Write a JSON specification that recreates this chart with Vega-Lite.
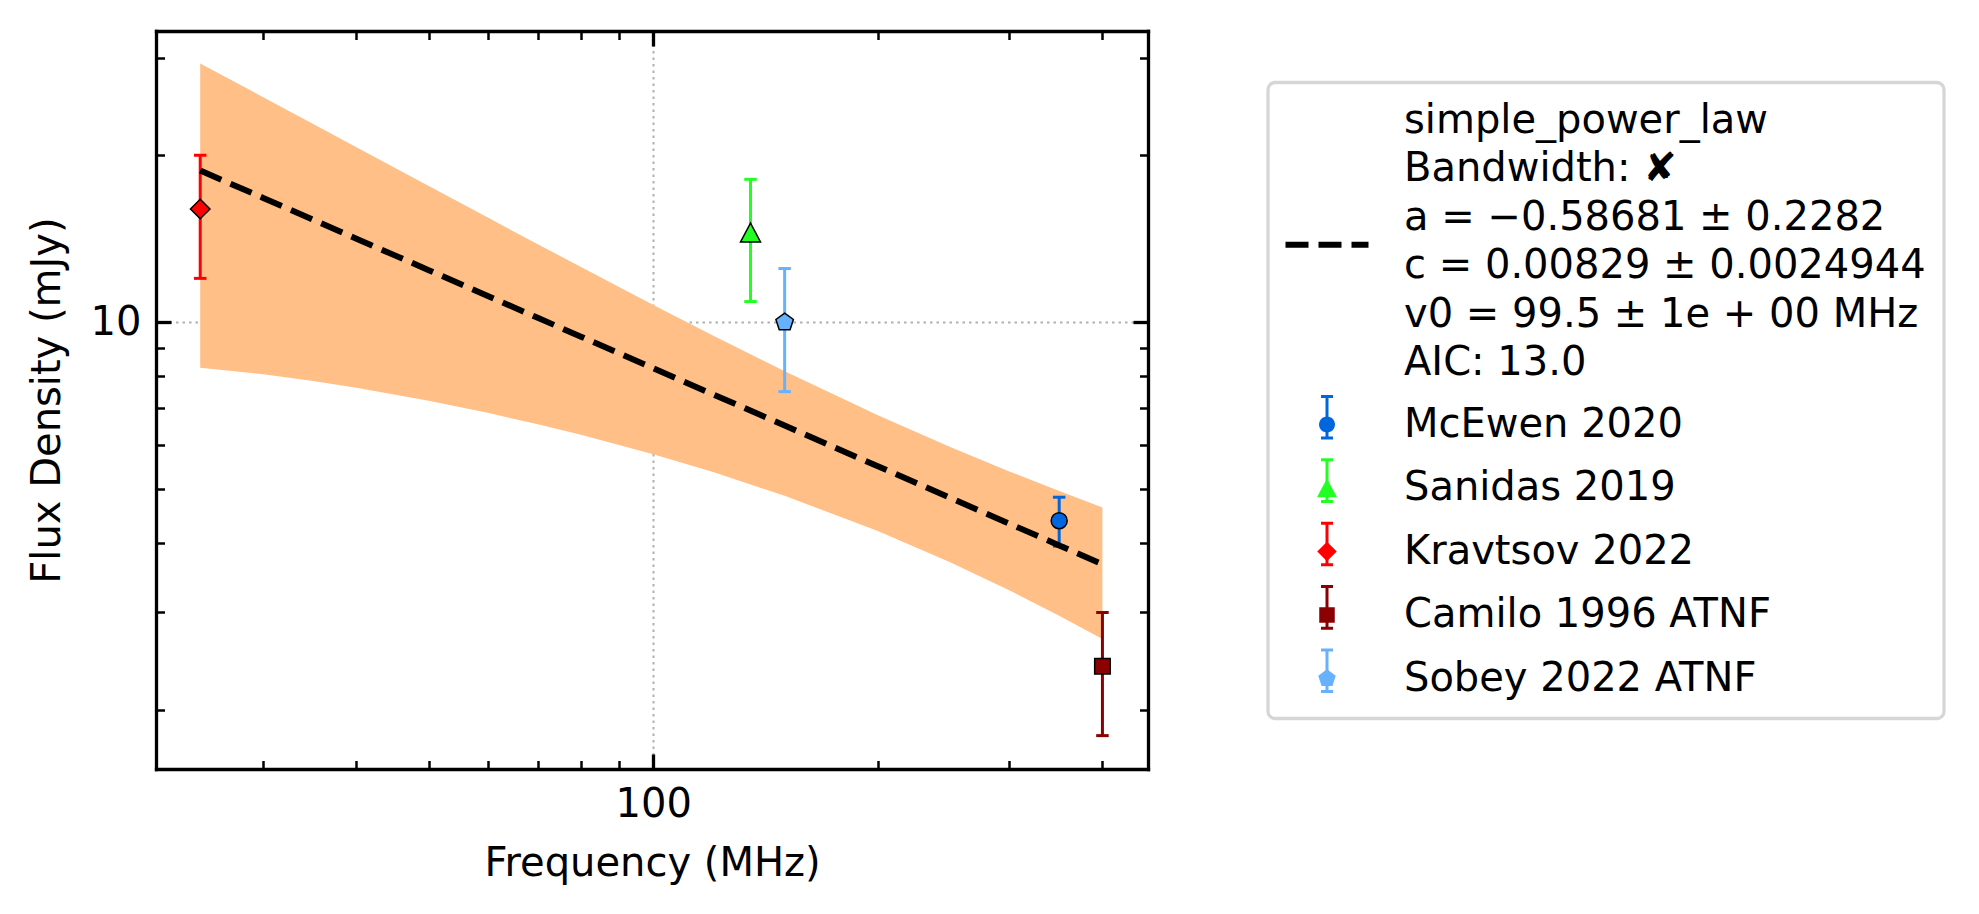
{
  "$schema": "https://vega.github.io/schema/vega-lite/v6.json",
  "width": 992,
  "height": 738,
  "autosize": {"type": "none"},
  "padding": {"left": 156, "top": 31, "right": 831, "bottom": 145},
  "background": "white",
  "config": {
    "font": "DejaVu Sans",
    "view": {"stroke": null},
    "axis": {
      "domainColor": "black", "domainWidth": 3.3, "domainCap": "square",
      "tickColor": "black",
      "labelFont": "DejaVu Sans", "labelFontSize": 40, "labelColor": "black",
      "titleFont": "DejaVu Sans", "titleFontSize": 40, "titleFontWeight": "normal", "titleColor": "black",
      "gridColor": "#b0b0b0", "gridWidth": 2, "gridDash": [2.5, 4]
    },
    "legend": {"labelFont": "DejaVu Sans", "labelFontSize": 40, "labelColor": "black", "strokeWidth": 3.3}
  },
  "datasets": {
    "fit": [
      {"model": "simple_power_law", "f": 24.7, "S": 18.778, "lo": 8.286, "hi": 29.27},
      {"model": "simple_power_law", "f": 30, "S": 16.754, "lo": 8.062, "hi": 25.446},
      {"model": "simple_power_law", "f": 35, "S": 15.305, "lo": 7.842, "hi": 22.768},
      {"model": "simple_power_law", "f": 40, "S": 14.151, "lo": 7.626, "hi": 20.676},
      {"model": "simple_power_law", "f": 50, "S": 12.414, "lo": 7.225, "hi": 17.603},
      {"model": "simple_power_law", "f": 60, "S": 11.155, "lo": 6.869, "hi": 15.441},
      {"model": "simple_power_law", "f": 70, "S": 10.19, "lo": 6.553, "hi": 13.827},
      {"model": "simple_power_law", "f": 80, "S": 9.422, "lo": 6.27, "hi": 12.574},
      {"model": "simple_power_law", "f": 100, "S": 8.266, "lo": 5.785, "hi": 10.747},
      {"model": "simple_power_law", "f": 120, "S": 7.427, "lo": 5.377, "hi": 9.477},
      {"model": "simple_power_law", "f": 150, "S": 6.516, "lo": 4.87, "hi": 8.162},
      {"model": "simple_power_law", "f": 200, "S": 5.503, "lo": 4.206, "hi": 6.8},
      {"model": "simple_power_law", "f": 250, "S": 4.828, "lo": 3.695, "hi": 5.961},
      {"model": "simple_power_law", "f": 300, "S": 4.338, "lo": 3.289, "hi": 5.387},
      {"model": "simple_power_law", "f": 350, "S": 3.963, "lo": 2.96, "hi": 4.966},
      {"model": "simple_power_law", "f": 400, "S": 3.664, "lo": 2.688, "hi": 4.64}
    ],
    "obs": [
      {"src": "McEwen 2020", "f": 350, "S": 4.39, "lo": 3.95, "hi": 4.84},
      {"src": "Sanidas 2019", "f": 135, "S": 14.5, "lo": 10.9, "hi": 18.1},
      {"src": "Kravtsov 2022", "f": 24.7, "S": 16.0, "lo": 12.0, "hi": 20.0},
      {"src": "Camilo 1996 ATNF", "f": 400, "S": 2.4, "lo": 1.8, "hi": 3.0},
      {"src": "Sobey 2022 ATNF", "f": 150, "S": 10.0, "lo": 7.5, "hi": 12.5}
    ]
  },
  "resolve": {"axis": {"x": "independent", "y": "independent"}},
  "layer": [
    {
      "data": {"name": "fit"},
      "mark": {"type": "area", "color": "#ffbf86", "opacity": 1},
      "encoding": {
        "x": {
          "field": "f", "type": "quantitative",
          "scale": {"type": "log", "domain": [21.549, 460.4], "nice": false},
          "axis": {
            "orient": "bottom",
            "values": [30, 40, 50, 60, 70, 80, 90, 100, 200, 300, 400],
            "labelExpr": "datum.value == 100 ? '100' : ''",
            "tickSize": {"condition": {"test": "datum.value == 100", "value": -15}, "value": -8.5},
            "tickWidth": {"condition": {"test": "datum.value == 100", "value": 3.3}, "value": 2.5},
            "grid": true,
            "gridOpacity": {"condition": {"test": "datum.value == 100", "value": 1}, "value": 0},
            "labelPadding": 30, "labelFlush": false, "labelOverlap": false,
            "title": "Frequency (MHz)", "titleX": 496, "titleY": 106, "titleBaseline": "alphabetic"
          }
        },
        "y": {
          "field": "lo", "type": "quantitative",
          "scale": {"type": "log", "domain": [1.5672, 33.49], "nice": false, "zero": false},
          "axis": {
            "orient": "left",
            "values": [2, 3, 4, 5, 6, 7, 8, 9, 10, 20, 30],
            "labelExpr": "datum.value == 10 ? '10' : ''",
            "tickSize": {"condition": {"test": "datum.value == 10", "value": -15}, "value": -8.5},
            "tickWidth": {"condition": {"test": "datum.value == 10", "value": 3.3}, "value": 2.5},
            "grid": true,
            "gridOpacity": {"condition": {"test": "datum.value == 10", "value": 1}, "value": 0},
            "labelPadding": 30, "labelFlush": false, "labelOverlap": false,
            "title": "Flux Density (mJy)", "titleX": -97, "titleY": 369, "titleBaseline": "alphabetic"
          }
        },
        "y2": {"field": "hi"}
      }
    },
    {
      "data": {"name": "obs"},
      "mark": {"type": "rule", "strokeWidth": 3},
      "encoding": {
        "x": {"field": "f", "type": "quantitative", "axis": null},
        "y": {"field": "lo", "type": "quantitative", "axis": null},
        "y2": {"field": "hi"},
        "color": {
          "field": "src", "type": "nominal",
          "scale": {
            "domain": ["McEwen 2020", "Sanidas 2019", "Kravtsov 2022", "Camilo 1996 ATNF", "Sobey 2022 ATNF"],
            "range": ["#0066dd", "#22ff22", "#ff0000", "#8b0000", "#66b2ff"]
          },
          "legend": {
            "orient": "none", "legendX": 1112, "legendY": 348.2, "title": null,
            "symbolType": "M0,-2.6V2.6M-0.75,-2.6H0.75M-0.75,2.6H0.75",
            "symbolSize": 256, "symbolStrokeWidth": 3, "symbolFillColor": "transparent",
            "symbolOffset": 21, "labelOffset": 57, "labelLimit": 2000, "labelExpr": "''",
            "padding": 18, "rowPadding": 9.4
          }
        }
      }
    },
    {
      "data": {"name": "obs"},
      "mark": {"type": "point", "shape": "M-1,0H1", "size": 156, "strokeWidth": 3, "filled": false, "opacity": 1},
      "encoding": {
        "x": {"field": "f", "type": "quantitative", "axis": null},
        "y": {"field": "hi", "type": "quantitative", "axis": null},
        "color": {"field": "src", "type": "nominal", "legend": null}
      }
    },
    {
      "data": {"name": "obs"},
      "mark": {"type": "point", "shape": "M-1,0H1", "size": 156, "strokeWidth": 3, "filled": false, "opacity": 1},
      "encoding": {
        "x": {"field": "f", "type": "quantitative", "axis": null},
        "y": {"field": "lo", "type": "quantitative", "axis": null},
        "color": {"field": "src", "type": "nominal", "legend": null}
      }
    },
    {
      "data": {"name": "obs"},
      "mark": {"type": "point", "filled": true, "size": 256, "stroke": "black", "strokeWidth": 1.5, "opacity": 1},
      "encoding": {
        "x": {"field": "f", "type": "quantitative", "axis": null},
        "y": {"field": "S", "type": "quantitative", "axis": null},
        "shape": {
          "field": "src", "type": "nominal",
          "scale": {
            "domain": ["simple_power_law", "Bandwidth: ✘", "a = −0.58681 ± 0.2282", "c = 0.00829 ± 0.0024944", "v0 = 99.5 ± 1e + 00 MHz", "AIC: 13.0", "McEwen 2020", "Sanidas 2019", "Kravtsov 2022", "Camilo 1996 ATNF", "Sobey 2022 ATNF"],
            "range": [
              "M-5.3,0M5.3,0", "M-5.3,0M5.3,0", "M-5.3,0M5.3,0", "M-5.3,0M5.3,0", "M-5.3,0M5.3,0", "M-5.3,0M5.3,0",
              "M-5.3,-3.6875M5.3,2.375M1,0A1,1,0,1,1,-1,0A1,1,0,1,1,1,0Z",
              "M-5.3,-3.6875M5.3,2.375M0,-1.2L1.25,1.15L-1.25,1.15Z",
              "M-5.3,-3.6875M5.3,2.375M0,-1.22L1.22,0L0,1.22L-1.22,0Z",
              "M-5.3,-3.6875M5.3,2.375M-0.97,-0.97H0.97V0.97H-0.97Z",
              "M-5.3,-3.6875M5.3,2.375M0,-1.15L1.094,-0.355L0.676,0.93L-0.676,0.93L-1.094,-0.355Z"
            ]
          },
          "legend": {
            "orient": "none", "legendX": 1112, "legendY": 51.5, "title": null,
            "symbolSize": 256, "symbolStrokeColor": "black", "symbolStrokeWidth": 1.5,
            "symbolOffset": 21, "labelOffset": 57, "labelLimit": 2000,
            "padding": 18, "rowPadding": 8.5,
            "strokeColor": "#d6d6d6", "cornerRadius": 7
          }
        },
        "fill": {
          "field": "src", "type": "nominal",
          "scale": {
            "domain": ["simple_power_law", "Bandwidth: ✘", "a = −0.58681 ± 0.2282", "c = 0.00829 ± 0.0024944", "v0 = 99.5 ± 1e + 00 MHz", "AIC: 13.0", "McEwen 2020", "Sanidas 2019", "Kravtsov 2022", "Camilo 1996 ATNF", "Sobey 2022 ATNF"],
            "range": ["transparent", "transparent", "transparent", "transparent", "transparent", "transparent", "#0066dd", "#22ff22", "#ff0000", "#8b0000", "#66b2ff"]
          },
          "legend": {
            "orient": "none", "legendX": 1112, "legendY": 51.5, "title": null,
            "symbolSize": 256, "symbolStrokeColor": "black", "symbolStrokeWidth": 1.5,
            "symbolOffset": 21, "labelOffset": 57, "labelLimit": 2000,
            "padding": 18, "rowPadding": 8.5,
            "strokeColor": "#d6d6d6", "cornerRadius": 7
          }
        }
      }
    },
    {
      "data": {"name": "fit"},
      "mark": {"type": "line", "color": "black", "strokeWidth": 6},
      "encoding": {
        "x": {
          "field": "f", "type": "quantitative",
          "axis": {
            "orient": "top",
            "values": [30, 40, 50, 60, 70, 80, 90, 100, 200, 300, 400],
            "labels": false, "grid": false, "title": null,
            "tickSize": {"condition": {"test": "datum.value == 100", "value": -15}, "value": -8.5},
            "tickWidth": {"condition": {"test": "datum.value == 100", "value": 3.3}, "value": 2.5}
          }
        },
        "y": {
          "field": "S", "type": "quantitative",
          "axis": {
            "orient": "right",
            "values": [2, 3, 4, 5, 6, 7, 8, 9, 10, 20, 30],
            "labels": false, "grid": false, "title": null,
            "tickSize": {"condition": {"test": "datum.value == 10", "value": -15}, "value": -8.5},
            "tickWidth": {"condition": {"test": "datum.value == 10", "value": 3.3}, "value": 2.5}
          }
        },
        "strokeDash": {
          "field": "model", "type": "nominal",
          "scale": {"domain": ["simple_power_law"], "range": [[23, 10]]},
          "legend": {
            "orient": "none", "legendX": 1126.5, "legendY": 169.3, "title": null,
            "symbolType": "stroke", "symbolSize": 6889, "symbolStrokeColor": "black", "symbolStrokeWidth": 6,
            "symbolOffset": 0, "labelExpr": "''", "padding": 0
          }
        }
      }
    }
  ]
}
